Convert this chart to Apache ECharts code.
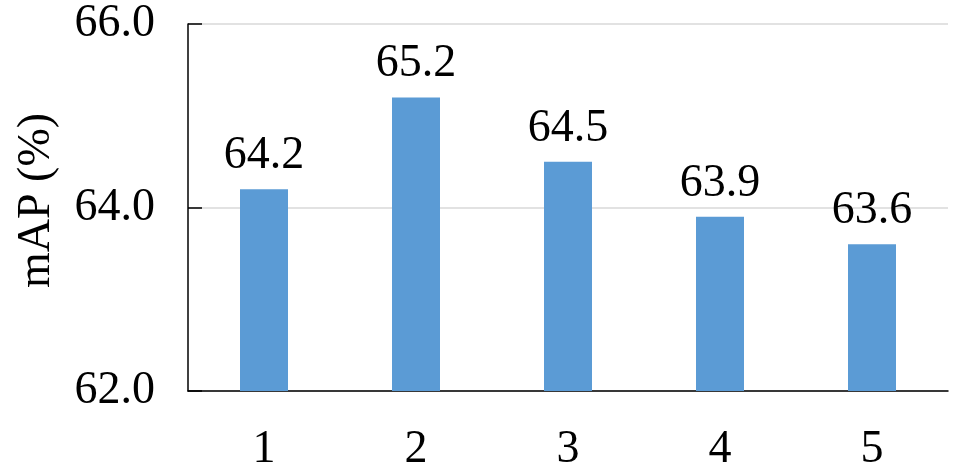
<!DOCTYPE html>
<html>
<head>
<meta charset="utf-8">
<script src="https://cdn.jsdelivr.net/npm/echarts@6/dist/echarts.min.js"></script>
<style>
  html, body { margin: 0; padding: 0; background: #fff; }
  #chart { width: 953px; height: 467px; }
</style>
</head>
<body>
<div id="chart"></div>
<script>
var categories = ['1', '2', '3', '4', '5'];
var mapValues = [64.2, 65.2, 64.5, 63.9, 63.6];

var font = 'Liberation Serif';
var myChart = echarts.init(document.getElementById('chart'));

var option = {
  animation: false,
  grid: { left: 188, right: 5, top: 24, bottom: 76, outerBoundsMode: 'none' },
  xAxis: {
    type: 'category',
    data: categories,
    axisLine: { lineStyle: { color: '#000', width: 1.5 } },
    axisTick: { inside: true, length: 13, lineStyle: { color: '#000', width: 1.5 } },
    axisLabel: { color: '#000', fontFamily: font, fontSize: 46, margin: 36 }
  },
  yAxis: {
    type: 'value',
    min: 62,
    max: 66,
    interval: 2,
    name: 'mAP (%)',
    nameLocation: 'middle',
    nameGap: 128,
    nameTextStyle: { color: '#000', fontFamily: font, fontSize: 46, padding: [0, 0, 0, 14] },
    axisLine: { show: true, lineStyle: { color: '#000', width: 1.5 } },
    axisTick: { show: true, inside: true, length: 14, lineStyle: { color: '#000', width: 1.5 } },
    axisLabel: {
      color: '#000', fontFamily: font, fontSize: 46, margin: 33,
      formatter: function (v) { return v.toFixed(1); }
    },
    splitLine: { lineStyle: { color: '#d9d9d9', width: 1.5 } }
  },
  series: [
    {
      type: 'bar',
      data: mapValues,
      barWidth: 48,
      itemStyle: { color: '#5b9bd5' },
      label: {
        show: true,
        position: 'top',
        distance: 10,
        color: '#000',
        fontFamily: font,
        fontSize: 46,
        formatter: function (p) { return p.value.toFixed(1); }
      }
    }
  ]
};

myChart.setOption(option);
</script>
</body>
</html>
